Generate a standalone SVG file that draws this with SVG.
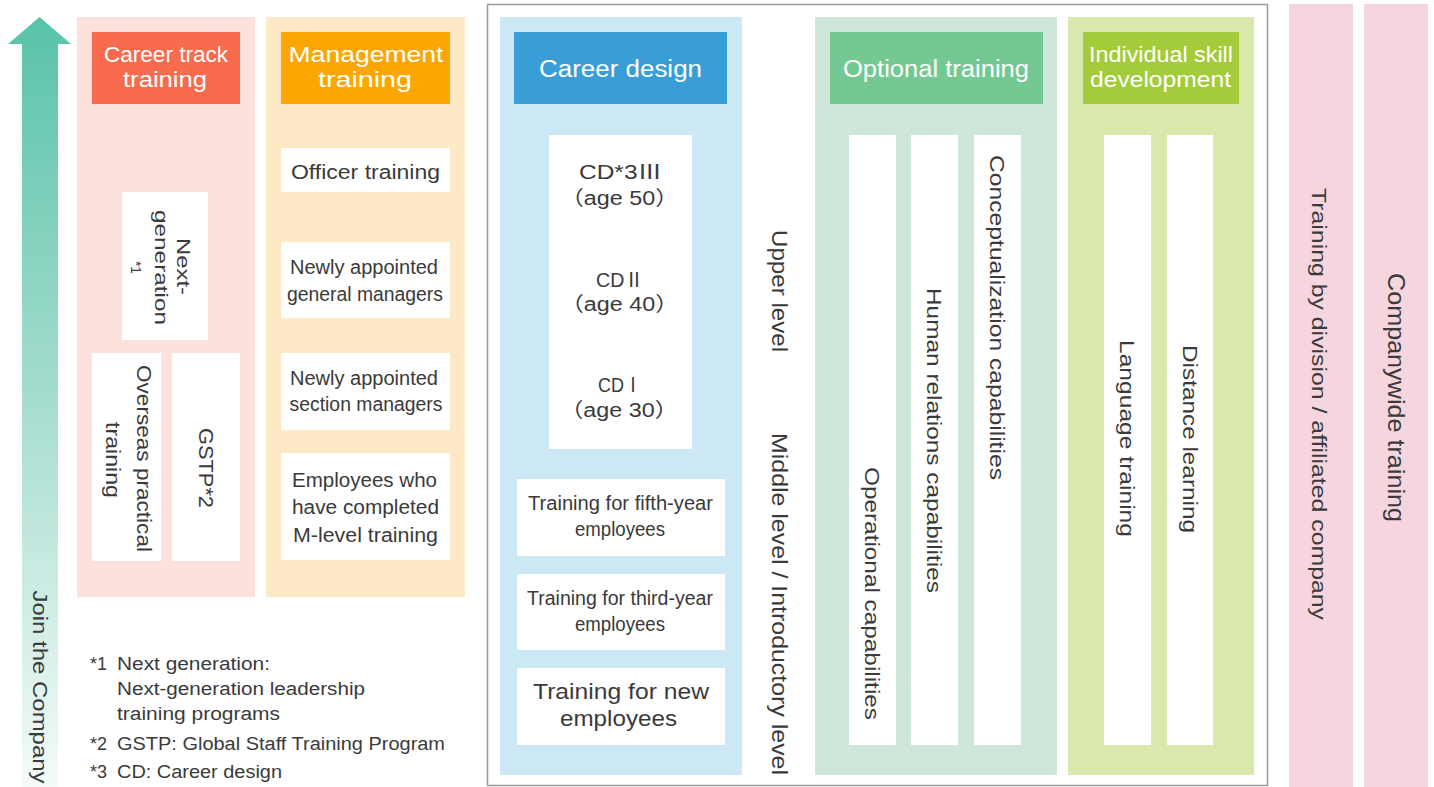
<svg xmlns="http://www.w3.org/2000/svg" width="1434" height="787" viewBox="0 0 1434 787">
<defs>
<linearGradient id="arrowGrad" x1="0" y1="17" x2="0" y2="787" gradientUnits="userSpaceOnUse">
<stop offset="0" stop-color="#58c3a8"/>
<stop offset="0.5" stop-color="#a6ddcf"/>
<stop offset="1" stop-color="#f4fbf9"/>
</linearGradient>
<style>
.t{font-family:"Liberation Sans","Noto Sans CJK JP",sans-serif;fill:#3a3a3a;text-anchor:middle}
.l{text-anchor:start}
.h{fill:#ffffff;font-size:22px}
.box{fill:#ffffff}
.f18{font-size:18px}.f19{font-size:19px}.f20{font-size:20px}.f21{font-size:21px}.f22{font-size:22px}.f24{font-size:24px}
</style>
</defs>
<rect width="1434" height="787" fill="#ffffff"/>

<g id="connectors">
<polygon points="39.5,17 71,44 58,44 58,787 22,787 22,44 8,44" fill="url(#arrowGrad)"/>
<text class="t f20" transform="translate(33,687) rotate(90)" textLength="193" lengthAdjust="spacingAndGlyphs">Join the Company</text>
</g>

<g id="career-track">
<rect x="77" y="17" width="178" height="580" fill="#fde1dc"/>
<rect x="92" y="32" width="148" height="72" fill="#f86b4e"/>
<text class="t h"><tspan x="166" y="62" textLength="124" lengthAdjust="spacingAndGlyphs">Career track</tspan><tspan x="165" y="87" textLength="84" lengthAdjust="spacingAndGlyphs">training</tspan></text>
</g>
<g id="next-generation">
<rect class="box" x="122" y="192" width="86" height="148"/>
<text class="t f19" transform="translate(177,267) rotate(90)"><tspan x="-0.5" y="0" textLength="57" lengthAdjust="spacingAndGlyphs">Next-</tspan><tspan x="0.5" y="22" textLength="115" lengthAdjust="spacingAndGlyphs">generation</tspan><tspan x="0.5" y="46" style="font-size:14px">*1</tspan></text>
</g>
<g id="overseas-training">
<rect class="box" x="92" y="353" width="69" height="208"/>
<text class="t f21" transform="translate(137,459) rotate(90)"><tspan x="-0.5" y="0" textLength="187" lengthAdjust="spacingAndGlyphs">Overseas practical</tspan><tspan x="1" y="31" textLength="76" lengthAdjust="spacingAndGlyphs">training</tspan></text>
</g>
<g id="gstp">
<rect class="box" x="172" y="353" width="68" height="208"/>
<text class="t f21" transform="translate(199,468) rotate(90)" textLength="80" lengthAdjust="spacingAndGlyphs">GSTP*2</text>
</g>

<g id="management">
<rect x="266" y="17" width="199" height="580" fill="#fde9c6"/>
<rect x="281" y="32" width="169" height="72" fill="#fba602"/>
<text class="t h"><tspan x="366" y="62" textLength="155" lengthAdjust="spacingAndGlyphs">Management</tspan><tspan x="365" y="87" textLength="94" lengthAdjust="spacingAndGlyphs">training</tspan></text>
</g>
<g id="officer-training">
<rect class="box" x="281" y="148" width="169" height="44"/>
<text class="t f20" x="365.5" y="179" textLength="149" lengthAdjust="spacingAndGlyphs">Officer training</text>
</g>
<g id="general-managers">
<rect class="box" x="281" y="242" width="169" height="76"/>
<text class="t f20"><tspan x="364" y="274" textLength="148" lengthAdjust="spacingAndGlyphs">Newly appointed</tspan><tspan x="365" y="301" textLength="156" lengthAdjust="spacingAndGlyphs">general managers</tspan></text>
</g>
<g id="section-managers">
<rect class="box" x="281" y="353" width="169" height="77"/>
<text class="t f20"><tspan x="364" y="385" textLength="148" lengthAdjust="spacingAndGlyphs">Newly appointed</tspan><tspan x="366" y="411" textLength="153" lengthAdjust="spacingAndGlyphs">section managers</tspan></text>
</g>
<g id="m-level-completed">
<rect class="box" x="281" y="453" width="169" height="107"/>
<text class="t f20"><tspan x="364.5" y="487" textLength="145" lengthAdjust="spacingAndGlyphs">Employees who</tspan><tspan x="365.5" y="514" textLength="147" lengthAdjust="spacingAndGlyphs">have completed</tspan><tspan x="365.5" y="542" textLength="145" lengthAdjust="spacingAndGlyphs">M-level training</tspan></text>
</g>

<g id="footnotes">
<text class="t l f18"><tspan x="90" y="670">*1</tspan><tspan x="117" y="670" textLength="153" lengthAdjust="spacingAndGlyphs">Next generation:</tspan><tspan x="117" y="695" textLength="248" lengthAdjust="spacingAndGlyphs">Next-generation leadership</tspan><tspan x="117" y="720" textLength="163" lengthAdjust="spacingAndGlyphs">training programs</tspan></text>
<text class="t l f18"><tspan x="90" y="750">*2</tspan><tspan x="117" y="750" textLength="328" lengthAdjust="spacingAndGlyphs">GSTP: Global Staff Training Program</tspan></text>
<text class="t l f18"><tspan x="90" y="778">*3</tspan><tspan x="117" y="778" textLength="165" lengthAdjust="spacingAndGlyphs">CD: Career design</tspan></text>
</g>

<rect id="frame" x="487.5" y="4.5" width="780" height="781" fill="none" stroke="#9a9a9a" stroke-width="1.5"/>

<g id="career-design">
<rect x="500" y="17" width="242" height="758" fill="#cde8f5"/>
<rect x="514" y="32" width="213" height="72" fill="#3a9ed6"/>
<text class="t h" style="font-size:23px" x="620.5" y="77" textLength="163" lengthAdjust="spacingAndGlyphs">Career design</text>
</g>
<g id="cd-stages">
<rect class="box" x="549" y="135" width="143" height="314"/>
<text class="t f20"><tspan x="620.5" y="179" textLength="83" lengthAdjust="spacingAndGlyphs">CD*3Ⅲ</tspan><tspan x="619.5" y="205" textLength="118" lengthAdjust="spacingAndGlyphs">（age 50）</tspan></text>
<text class="t f20"><tspan x="620" y="287" textLength="48" lengthAdjust="spacingAndGlyphs">CDⅡ</tspan><tspan x="619.5" y="311" textLength="118" lengthAdjust="spacingAndGlyphs">（age 40）</tspan></text>
<text class="t f20"><tspan x="620" y="392" textLength="44" lengthAdjust="spacingAndGlyphs">CDⅠ</tspan><tspan x="619" y="417" textLength="118" lengthAdjust="spacingAndGlyphs">（age 30）</tspan></text>
</g>
<g id="fifth-year">
<rect class="box" x="517" y="479" width="208" height="77"/>
<text class="t f20"><tspan x="620.5" y="510" textLength="185" lengthAdjust="spacingAndGlyphs">Training for fifth-year</tspan><tspan x="620" y="536" textLength="90" lengthAdjust="spacingAndGlyphs">employees</tspan></text>
</g>
<g id="third-year">
<rect class="box" x="517" y="574" width="208" height="76"/>
<text class="t f20"><tspan x="620" y="605" textLength="186" lengthAdjust="spacingAndGlyphs">Training for third-year</tspan><tspan x="620" y="631" textLength="90" lengthAdjust="spacingAndGlyphs">employees</tspan></text>
</g>
<g id="new-employees">
<rect class="box" x="517" y="668" width="208" height="77"/>
<text class="t f22"><tspan x="621" y="699" textLength="176" lengthAdjust="spacingAndGlyphs">Training for new</tspan><tspan x="618.5" y="726" textLength="117" lengthAdjust="spacingAndGlyphs">employees</tspan></text>
</g>

<g id="levels">
<text class="t f22" transform="translate(772,291) rotate(90)" textLength="122" lengthAdjust="spacingAndGlyphs">Upper level</text>
<text class="t f22" transform="translate(772,604) rotate(90)" textLength="342" lengthAdjust="spacingAndGlyphs">Middle level / Introductory level</text>
</g>

<g id="optional-training">
<rect x="815" y="17" width="242" height="758" fill="#cfe7d8"/>
<rect x="830" y="32" width="213" height="72" fill="#74c992"/>
<text class="t h" style="font-size:23px" x="936" y="77" textLength="186" lengthAdjust="spacingAndGlyphs">Optional training</text>
</g>
<g id="operational">
<rect class="box" x="849" y="135" width="47" height="610"/>
<text class="t f21" transform="translate(865,593.5) rotate(90)" textLength="253" lengthAdjust="spacingAndGlyphs">Operational capabilities</text>
</g>
<g id="human-relations">
<rect class="box" x="911" y="135" width="47" height="610"/>
<text class="t f21" transform="translate(927,440.5) rotate(90)" textLength="305" lengthAdjust="spacingAndGlyphs">Human relations capabilities</text>
</g>
<g id="conceptualization">
<rect class="box" x="974" y="135" width="47" height="610"/>
<text class="t f21" transform="translate(989.5,317.5) rotate(90)" textLength="325" lengthAdjust="spacingAndGlyphs">Conceptualization capabilities</text>
</g>

<g id="individual-skill">
<rect x="1068" y="17" width="186" height="758" fill="#d9e8ad"/>
<rect x="1083" y="32" width="156" height="72" fill="#a3cb3a"/>
<text class="t h"><tspan x="1161" y="62" textLength="144" lengthAdjust="spacingAndGlyphs">Individual skill</tspan><tspan x="1160.5" y="87" textLength="141" lengthAdjust="spacingAndGlyphs">development</tspan></text>
</g>
<g id="language">
<rect class="box" x="1104" y="135" width="47" height="610"/>
<text class="t f21" transform="translate(1120,438.5) rotate(90)" textLength="197" lengthAdjust="spacingAndGlyphs">Language training</text>
</g>
<g id="distance">
<rect class="box" x="1167" y="135" width="46" height="610"/>
<text class="t f21" transform="translate(1182.5,439) rotate(90)" textLength="188" lengthAdjust="spacingAndGlyphs">Distance learning</text>
</g>

<g id="division-training">
<rect x="1289" y="4" width="64" height="783" fill="#f5d6df"/>
<text class="t f21" transform="translate(1312,404) rotate(90)" textLength="432" lengthAdjust="spacingAndGlyphs">Training by division / affiliated company</text>
</g>
<g id="companywide-training">
<rect x="1364" y="4" width="64" height="783" fill="#f5d6df"/>
<text class="t f24" transform="translate(1388,397.5) rotate(90)" textLength="249" lengthAdjust="spacingAndGlyphs">Companywide training</text>
</g>
</svg>
